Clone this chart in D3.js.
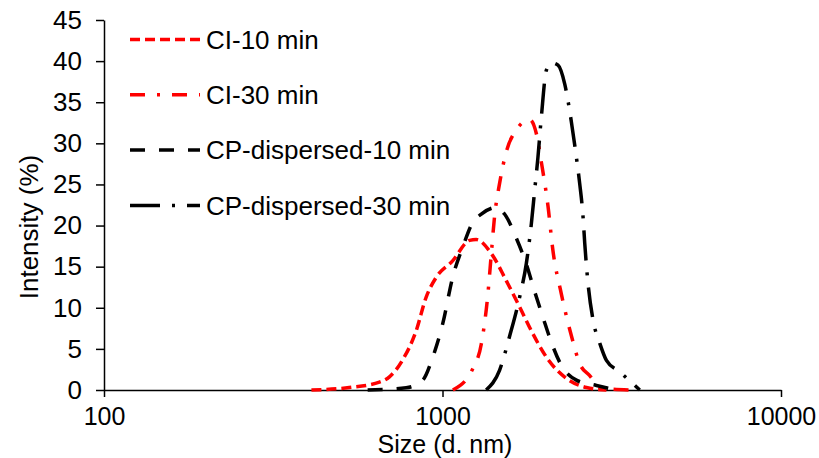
<!DOCTYPE html>
<html>
<head>
<meta charset="utf-8">
<script src="https://cdn.jsdelivr.net/npm/d3@7"></script>
<style>
  html, body { margin: 0; padding: 0; background: #fff; }
  svg { display: block; }
  text { font-family: Arial, "Liberation Sans", sans-serif; fill: #000; }
</style>
</head>
<body>
<svg id="chart" width="819" height="458"></svg>
<script>
// ---- Data ----
const ci10Size = [410, 530, 651, 697, 761, 836, 895, 958, 1071, 1202, 1258, 1394, 1543, 1690, 1846, 2027, 2323, 2663, 3050];
const ci10Int  = [0, 0.3, 0.95, 1.6, 3.6, 7.2, 11.3, 13.7, 15.7, 18.2, 18.3, 16.6, 13.3, 10.1, 6.9, 4.0, 1.4, 0.3, 0];

const ci30Size = [1073, 1229, 1302, 1362, 1394, 1425, 1474, 1549, 1651, 1809, 1893, 1959, 2049, 2119, 2244, 2403, 2543, 2722, 2948, 3580];
const ci30Int  = [0, 2.6, 5.6, 11.7, 16.6, 21.1, 25.1, 29.2, 31.6, 32.9, 31.2, 27.7, 22.4, 17.0, 11.7, 6.6, 3.2, 1.75, 0.2, 0];

const cp10Size = [601, 781, 874, 936, 1002, 1073, 1148, 1229, 1302, 1442, 1525, 1651, 1769, 1871, 1982, 2097, 2244, 2486, 2850, 3265];
const cp10Int  = [0, 0.27, 1.2, 4.0, 8.1, 13.8, 17.4, 20.4, 21.4, 22.2, 21.4, 18.5, 15.3, 12.0, 8.8, 5.8, 3.0, 1.2, 0.55, 0];

const cp30Size = [1346, 1474, 1580, 1690, 1769, 1830, 1871, 1914, 1959, 2027, 2100, 2194, 2297, 2403, 2486, 2543, 2602, 2632, 2692, 2785, 2914, 3050, 3339, 3826];
const cp30Int  = [0, 2.4, 6.6, 11.3, 15.4, 20.2, 24.2, 28.3, 33.2, 38.9, 39.8, 39.5, 37.2, 32.6, 28.3, 25.1, 21.0, 17.8, 12.9, 8.5, 5.7, 3.6, 2.2, 0];

const seriesNames = ["CI-10 min", "CI-30 min", "CP-dispersed-10 min", "CP-dispersed-30 min"];
const xTicks = [100, 1000, 10000];
const yTicks = [0, 5, 10, 15, 20, 25, 30, 35, 40, 45];
const xTitle = "Size (d. nm)";
const yTitle = "Intensity (%)";

// ---- Styles ----
const styles = [
  { color: "#FF0000", dash: "10,5" },
  { color: "#FF0000", dash: "15,12,3,12" },
  { color: "#000000", dash: "15,14" },
  { color: "#000000", dash: "30,12,3,12" }
];
const series = [
  d3.zip(ci10Size, ci10Int),
  d3.zip(ci30Size, ci30Int),
  d3.zip(cp10Size, cp10Int),
  d3.zip(cp30Size, cp30Int)
];

const svg = d3.select("#chart");
const FS = 26;
const FSX = 25;

const x = d3.scaleLog().domain([100, 10000]).range([104, 781]);
const y = d3.scaleLinear().domain([0, 45]).range([390, 20]);

// Axes
const gy = svg.append("g").attr("transform", `translate(${x(100)},0)`)
  .call(d3.axisLeft(y).tickValues(yTicks).tickSize(8).tickSizeOuter(0).tickPadding(14));
const gx = svg.append("g").attr("transform", `translate(0,${y(0)})`)
  .call(d3.axisBottom(x).tickValues(xTicks).tickFormat(d3.format("d")).tickSize(7).tickSizeOuter(0).tickPadding(10.5));
[gx, gy].forEach(g => {
  g.selectAll("path.domain").attr("stroke", "#000").attr("stroke-width", 1.5);
  g.selectAll(".tick line").attr("stroke", "#000").attr("stroke-width", 1.5);
  g.selectAll(".tick text").attr("font-family", "Arial, 'Liberation Sans', sans-serif").attr("fill", "#000");
});
gy.selectAll(".tick text").attr("font-size", FS);
gx.selectAll(".tick text").attr("font-size", FSX);

// Axis titles
svg.append("text").attr("x", 445).attr("y", 452.8).attr("text-anchor", "middle")
  .attr("font-size", FSX).text(xTitle);
svg.append("text").attr("transform", "translate(38,227) rotate(-90)").attr("text-anchor", "middle")
  .attr("font-size", FS).text(yTitle);

// Lines
const line = d3.line().x(d => x(d[0])).y(d => y(d[1])).curve(d3.curveMonotoneX);
series.forEach((s, i) => {
  svg.append("path").datum(s)
    .attr("d", line)
    .attr("fill", "none")
    .attr("stroke", styles[i].color)
    .attr("stroke-width", 3.5)
    .attr("stroke-dasharray", styles[i].dash);
});

// Legend
const legY0 = 39.5, legStep = 55.3;
seriesNames.forEach((name, i) => {
  const yy = legY0 + i * legStep;
  svg.append("line").attr("x1", 130).attr("x2", 200).attr("y1", yy).attr("y2", yy)
    .attr("stroke", styles[i].color).attr("stroke-width", 3.5)
    .attr("stroke-dasharray", styles[i].dash);
  svg.append("text").attr("x", 206).attr("y", yy).attr("dy", "0.35em")
    .attr("font-size", FS).text(name);
});
</script>
</body>
</html>
